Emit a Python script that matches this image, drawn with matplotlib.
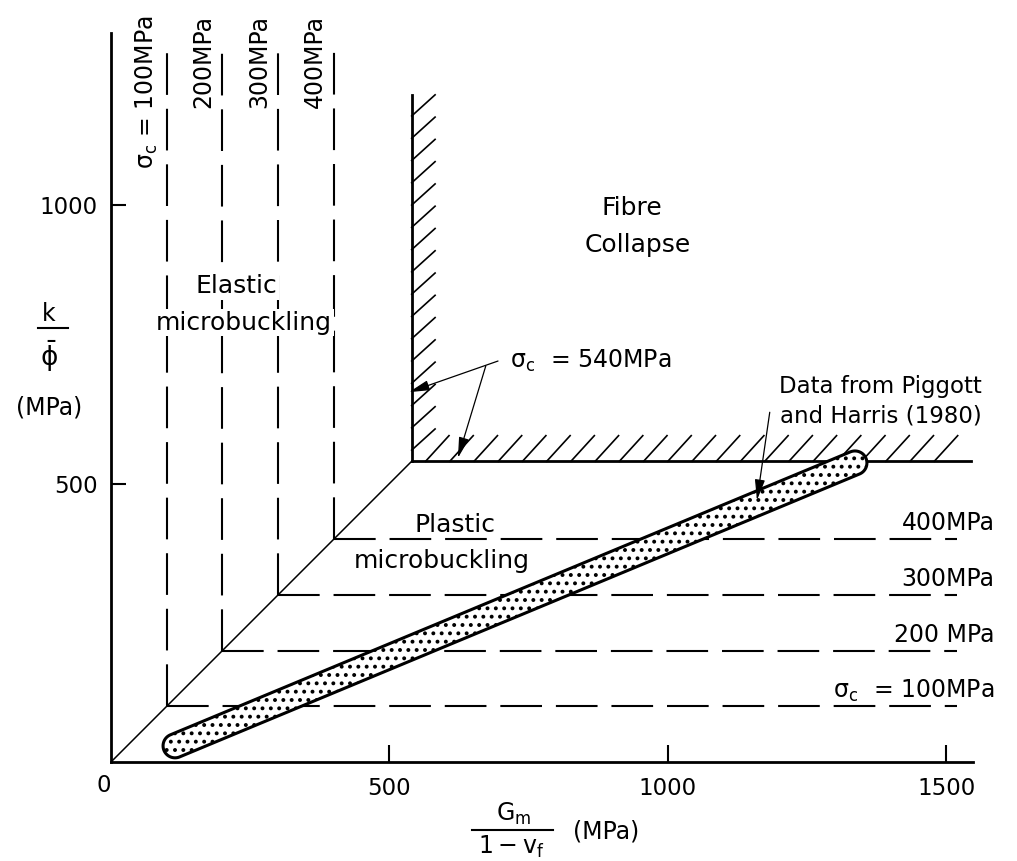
import numpy as np
import matplotlib
matplotlib.use('Agg')
import matplotlib.pyplot as plt
from matplotlib.path import Path
from matplotlib.patches import PathPatch
from matplotlib.lines import Line2D

plt.rcParams['font.family'] = ['DejaVu Sans']
plt.rcParams['mathtext.default'] = 'regular'
plt.rcParams['lines.scale_dashes'] = False
plt.rcParams['hatch.linewidth'] = 1.6

# constant-strength contours (MPa)
stress_levels = [100, 200, 300, 400]
labels_vertical = [r'$\sigma_c$ = 100MPa', '200MPa', '300MPa', '400MPa']
labels_horizontal = [r'$\sigma_c$  = 100MPa', '200 MPa', '300MPa', '400MPa']
contour_top = 1295
contour_right = 1519

# fibre collapse boundary
collapse_stress = 540
collapse_top = 1197
collapse_right = 1545

# Piggott and Harris (1980) data band: band ends and half width
band_x = [115, 1336]
band_y = [29, 537]
band_radius = 21.5

x_ticks = [500, 1000, 1500]
y_ticks = [500, 1000]

W, H = 1017, 861
fig = plt.figure(figsize=(W / 100, H / 100), dpi=100)
ax = fig.add_axes([111 / W, 99 / H, 862 / W, 729 / H])
ax.set_xlim(0, 1548)
ax.set_ylim(0, 1309)

for side in ['top', 'right']:
    ax.spines[side].set_visible(False)
for side in ['left', 'bottom']:
    ax.spines[side].set_linewidth(2)

ax.set_xticks(x_ticks)
ax.set_yticks(y_ticks)
ax.tick_params(axis='x', direction='in', length=12, width=1.5, pad=10.5, labelsize=16.5)
ax.tick_params(axis='y', direction='in', length=10.8, width=1.5, pad=9.4, labelsize=16.5)
ax.text(-13, -43, '0', ha='center', va='center', fontsize=16.5)

dash = (0, (30, 10))

# diagonal boundary between the regions
ax.plot([0, collapse_stress], [0, collapse_stress], color='black', lw=1.1)

# elastic microbuckling contours (vertical) and plastic ones (horizontal)
for s, lab in zip(stress_levels, labels_vertical):
    ax.plot([s, s], [s, contour_top], color='black', lw=1.5, linestyle=dash)
    ax.text(s - 12, 1341, lab, rotation=90, ha='right', va='top', fontsize=17)
for s, lab in zip(stress_levels, labels_horizontal):
    ax.plot([s, contour_right], [s, s], color='black', lw=1.5, linestyle=dash)
    ax.text(1587, s + 16, lab, ha='right', va='baseline', fontsize=17)

# fibre collapse boundary with hatching
ax.plot([collapse_stress, collapse_stress], [collapse_stress, collapse_top], color='black', lw=2)
ax.plot([collapse_stress, collapse_right], [collapse_stress, collapse_stress], color='black', lw=2)
for x0 in np.arange(565, 1505, 43.5):
    ax.plot([x0, x0 + 42], [collapse_stress, collapse_stress + 46], color='black', lw=1.2)
for y0 in np.arange(560, 1180, 40):
    ax.plot([collapse_stress, collapse_stress + 42], [y0, y0 + 38], color='black', lw=1.2)

# data band as a rounded capsule
p1 = np.array([band_x[0], band_y[0]], dtype=float)
p2 = np.array([band_x[1], band_y[1]], dtype=float)
theta = np.arctan2(p2[1] - p1[1], p2[0] - p1[0])
a_end = np.linspace(theta - np.pi / 2, theta + np.pi / 2, 40)
a_start = np.linspace(theta + np.pi / 2, theta + 3 * np.pi / 2, 40)
pts = np.vstack([
    np.column_stack([p2[0] + band_radius * np.cos(a_end), p2[1] + band_radius * np.sin(a_end)]),
    np.column_stack([p1[0] + band_radius * np.cos(a_start), p1[1] + band_radius * np.sin(a_start)]),
])
pts = np.vstack([pts, pts[:1]])
band = PathPatch(Path(pts, closed=True), facecolor='white', edgecolor='black',
                 lw=2.2, hatch='..', zorder=3)
ax.add_patch(band)

# region labels (white backing breaks the dashed lines as in the original)
blank = dict(facecolor='white', edgecolor='none', pad=1)
ax.text(935, 982, 'Fibre', ha='center', va='baseline', fontsize=18)
ax.text(946, 916, 'Collapse', ha='center', va='baseline', fontsize=18)
ax.text(226, 842, 'Elastic', ha='center', va='baseline', fontsize=18, bbox=blank)
ax.text(239, 776, 'microbuckling', ha='center', va='baseline', fontsize=18, bbox=blank)
ax.text(618, 413, 'Plastic', ha='center', va='baseline', fontsize=18)
ax.text(594, 348, 'microbuckling', ha='center', va='baseline', fontsize=18)

# annotations
arrow = dict(arrowstyle='-|>,head_length=0.9,head_width=0.22', color='black', lw=0.9,
             shrinkA=0, shrinkB=0, mutation_scale=14)
ax.text(716, 707, r'$\sigma_c$  = 540MPa', ha='left', va='baseline', fontsize=17)
ax.annotate('', xy=(535, 664), xytext=(695, 720), arrowprops=arrow)
ax.annotate('', xy=(623, 546), xytext=(673, 711), arrowprops=arrow)

ax.text(1199, 663, 'Data from Piggott', ha='left', va='baseline', fontsize=16.5)
ax.text(1201, 610, 'and Harris (1980)', ha='left', va='baseline', fontsize=16.5)
ax.annotate('', xy=(1160, 470), xytext=(1183, 628), arrowprops=arrow, zorder=4)

# axis labels drawn as stacked fractions
def fx(px):
    return px / W

def fy(py):
    return 1 - py / H

fig.text(fx(49), fy(314), 'k', ha='center', va='center', fontsize=17)
fig.add_artist(Line2D([fx(38), fx(68)], [fy(328), fy(328)], color='black', lw=1.5))
fig.text(fx(49), fy(356), r'$\bar{\phi}$', ha='center', va='center', fontsize=19)
fig.text(fx(49), fy(408), '(MPa)', ha='center', va='center', fontsize=17)

fig.text(fx(514), fy(814), r'$G_m$', ha='center', va='center', fontsize=17)
fig.add_artist(Line2D([fx(472), fx(553)], [fy(830), fy(830)], color='black', lw=1.5))
fig.text(fx(511), fy(847), r'$1 - v_f$', ha='center', va='center', fontsize=17)
fig.text(fx(573), fy(832), '(MPa)', ha='left', va='center', fontsize=17)

fig.savefig('out.png', dpi=100)
